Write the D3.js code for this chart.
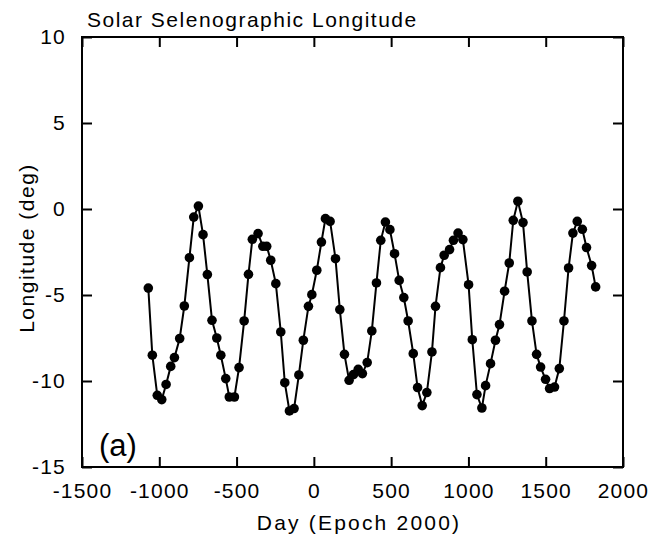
<!DOCTYPE html>
<html>
<head>
<meta charset="utf-8">
<script src="https://cdn.jsdelivr.net/npm/d3@7"></script>
<style>
  body { margin: 0; background: #fff; }
  svg text { font-family: "Liberation Sans", Arial, Helvetica, sans-serif; fill: #000; }
</style>
</head>
<body>
<div id="chart"></div>
<script>
// chart size
var width  = 650;
var height = 540;

// day number relative to epoch 2000
var days = [-1071, -1045, -1013, -984, -956, -926, -902, -868, -838, -805,
  -777, -747, -717, -689, -659, -628, -602, -570, -547, -514,
  -484, -451, -423, -398, -361, -330, -305, -279, -246, -214,
  -188, -158, -128, -97, -68, -35, -13, 19, 49, 75,
  105, 140, 168, 198, 228, 256, 287, 314, 345, 375,
  405, 433, 463, 492, 522, 552, 582, 610, 643, 671,
  701, 731, 764, 787, 819, 843, 878, 903, 933, 964,
  1001, 1025, 1055, 1087, 1111, 1143, 1175, 1201, 1234, 1264,
  1290, 1320, 1353, 1380, 1411, 1441, 1467, 1499, 1525, 1557,
  1588, 1618, 1648, 1676, 1704, 1737, 1764, 1797, 1823];

// solar selenographic longitude (deg)
var longitude = [-4.6, -8.5, -10.83, -11.08, -10.2, -9.15, -8.64, -7.53, -5.64, -2.83,
  -0.47, 0.17, -1.49, -3.81, -6.47, -7.5, -8.5, -9.86, -10.93, -10.93,
  -9.22, -6.51, -3.8, -1.76, -1.43, -2.17, -2.17, -2.98, -4.34, -7.15,
  -10.1, -11.74, -11.6, -9.65, -7.63, -5.66, -4.98, -3.56, -1.92, -0.56,
  -0.72, -2.89, -5.85, -8.45, -9.96, -9.63, -9.32, -9.57, -8.93, -7.09,
  -4.3, -1.82, -0.76, -1.2, -2.6, -4.15, -5.15, -6.51, -8.41, -10.38,
  -11.43, -10.67, -8.31, -5.66, -3.41, -2.69, -2.36, -1.82, -1.4, -1.78,
  -4.4, -7.6, -10.79, -11.57, -10.27, -8.99, -7.63, -6.72, -4.78, -3.14,
  -0.66, 0.45, -0.79, -3.66, -6.51, -8.45, -9.19, -9.9, -10.44, -10.35,
  -9.28, -6.51, -3.43, -1.4, -0.72, -1.18, -2.24, -3.29, -4.53];

var xTicks = [-1500, -1000, -500, 0, 500, 1000, 1500, 2000];
var yTicks = [-15, -10, -5, 0, 5, 10];

var points = days.map(function(d, i) { return {day: d, lon: longitude[i]}; });

var margin = {left: 82, right: 27, top: 37, bottom: 73};
var w = width - margin.left - margin.right;
var h = height - margin.top - margin.bottom;

var svg = d3.select("#chart").append("svg")
  .attr("width", width)
  .attr("height", height);

var g = svg.append("g")
  .attr("transform", "translate(" + margin.left + "," + margin.top + ")");

var x = d3.scaleLinear().domain([-1500, 2000]).range([0, w]);
var y = d3.scaleLinear().domain([-15, 10]).range([h, 0]);

// plain hyphen for negative numbers
var fmt = function(d) { return String(d); };

//axes with inward ticks on all four sides
var tickLen = 10;
function styleAxis(sel) {
  sel.select(".domain").remove();
  sel.selectAll(".tick line").attr("stroke", "#000").attr("stroke-width", 2);
  sel.selectAll("text")
    .style("font-size", "21px")
    .style("letter-spacing", "1.2px");
}

g.append("g")
  .attr("transform", "translate(0," + h + ")")
  .call(d3.axisBottom(x).tickValues(xTicks).tickSize(-tickLen).tickPadding(16).tickFormat(fmt))
  .call(styleAxis);

g.append("g")
  .call(d3.axisLeft(y).tickValues(yTicks).tickSize(-tickLen).tickPadding(16).tickFormat(fmt))
  .call(styleAxis);

g.append("g")
  .call(d3.axisTop(x).tickValues(xTicks).tickSize(-tickLen).tickFormat(""))
  .call(styleAxis);

g.append("g")
  .attr("transform", "translate(" + w + ",0)")
  .call(d3.axisRight(y).tickValues(yTicks).tickSize(-tickLen).tickFormat(""))
  .call(styleAxis);

// frame
g.append("rect")
  .attr("width", w)
  .attr("height", h)
  .attr("fill", "none")
  .attr("stroke", "#000")
  .attr("stroke-width", 2);

// series
var line = d3.line()
  .x(function(d) { return x(d.day); })
  .y(function(d) { return y(d.lon); });

g.append("path")
  .datum(points)
  .attr("d", line)
  .attr("fill", "none")
  .attr("stroke", "#000")
  .attr("stroke-width", 2);

g.selectAll("circle")
  .data(points)
  .enter().append("circle")
  .attr("cx", function(d) { return x(d.day); })
  .attr("cy", function(d) { return y(d.lon); })
  .attr("r", 4.8)
  .attr("fill", "#000");

// labels
svg.append("text")
  .attr("x", 87)
  .attr("y", 27)
  .style("font-size", "21px")
  .style("letter-spacing", "1.5px")
  .text("Solar Selenographic Longitude");

svg.append("text")
  .attr("x", 359)
  .attr("y", 530)
  .attr("text-anchor", "middle")
  .style("font-size", "21px")
  .style("letter-spacing", "2.2px")
  .text("Day (Epoch 2000)");

svg.append("text")
  .attr("transform", "translate(34,248) rotate(-90)")
  .attr("text-anchor", "middle")
  .style("font-size", "21px")
  .style("letter-spacing", "1.5px")
  .text("Longitude (deg)");

svg.append("text")
  .attr("x", 99)
  .attr("y", 456)
  .style("font-size", "31px")
  .text("(a)");
</script>
</body>
</html>
